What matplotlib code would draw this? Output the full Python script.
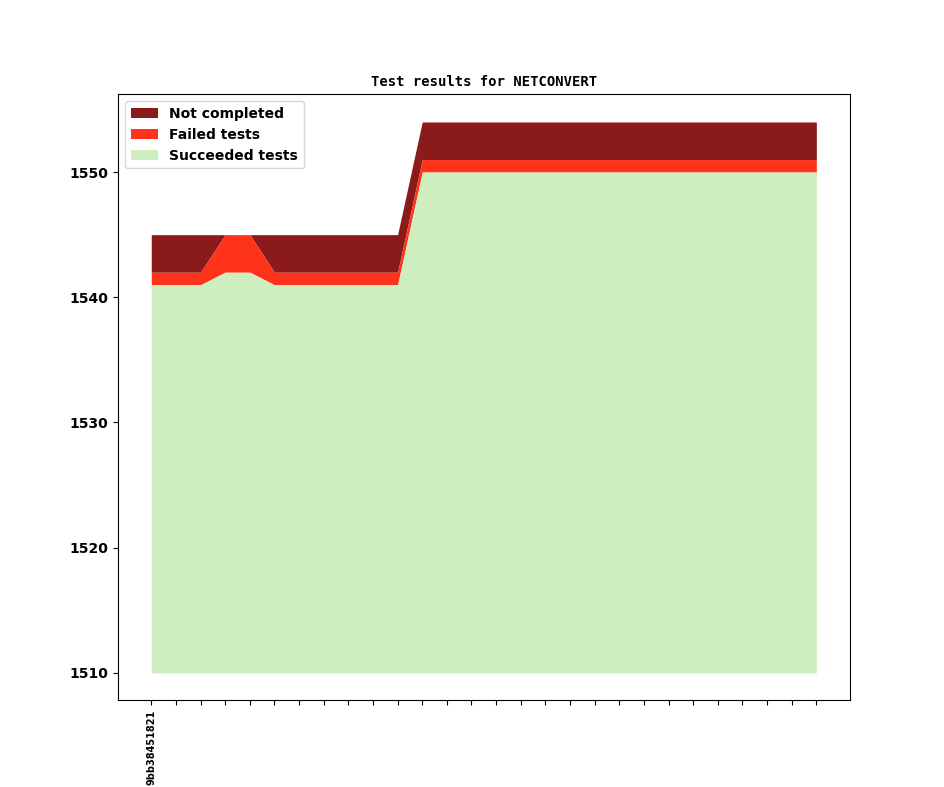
import matplotlib
matplotlib.use("Agg")
import matplotlib.pyplot as plt
import numpy as np

revisions = ["9bb38451821"] + [""] * 27
succeeded = [1541, 1541, 1541, 1542, 1542, 1541, 1541, 1541, 1541, 1541, 1541] + [1550] * 17
failed = [1, 1, 1, 3, 3, 1, 1, 1, 1, 1, 1] + [1] * 17
not_completed = [3, 3, 3, 0, 0, 3, 3, 3, 3, 3, 3] + [3] * 17
baseline = 1510

x = np.arange(len(revisions))
s = np.array(succeeded)
f = s + np.array(failed)
n = f + np.array(not_completed)

fig, ax = plt.subplots(figsize=(9.44, 7.87), dpi=100)
ax.fill_between(x, f, n, color="#8b1a1a", label="Not completed", linewidth=0)
ax.fill_between(x, s, f, color="#ff321a", label="Failed tests", linewidth=0)
ax.fill_between(x, baseline, s, color="#cfeebf", label="Succeeded tests", linewidth=0)

ax.set_xticks(x)
ax.set_xticklabels(revisions, rotation=90, fontsize=7, fontweight="bold")
for lab in ax.get_yticklabels():
    lab.set_fontweight("bold")
ax.tick_params(axis="y", labelsize=10)
ax.set_yticks([1510, 1520, 1530, 1540, 1550])
ax.set_yticklabels(["1510", "1520", "1530", "1540", "1550"], fontweight="bold")
ax.set_title("Test results for NETCONVERT", family="DejaVu Sans Mono", fontweight="bold", fontsize=10)
ax.legend(loc="upper left", prop={"weight": "bold", "size": 10})

fig.savefig("out.png", dpi=100)
